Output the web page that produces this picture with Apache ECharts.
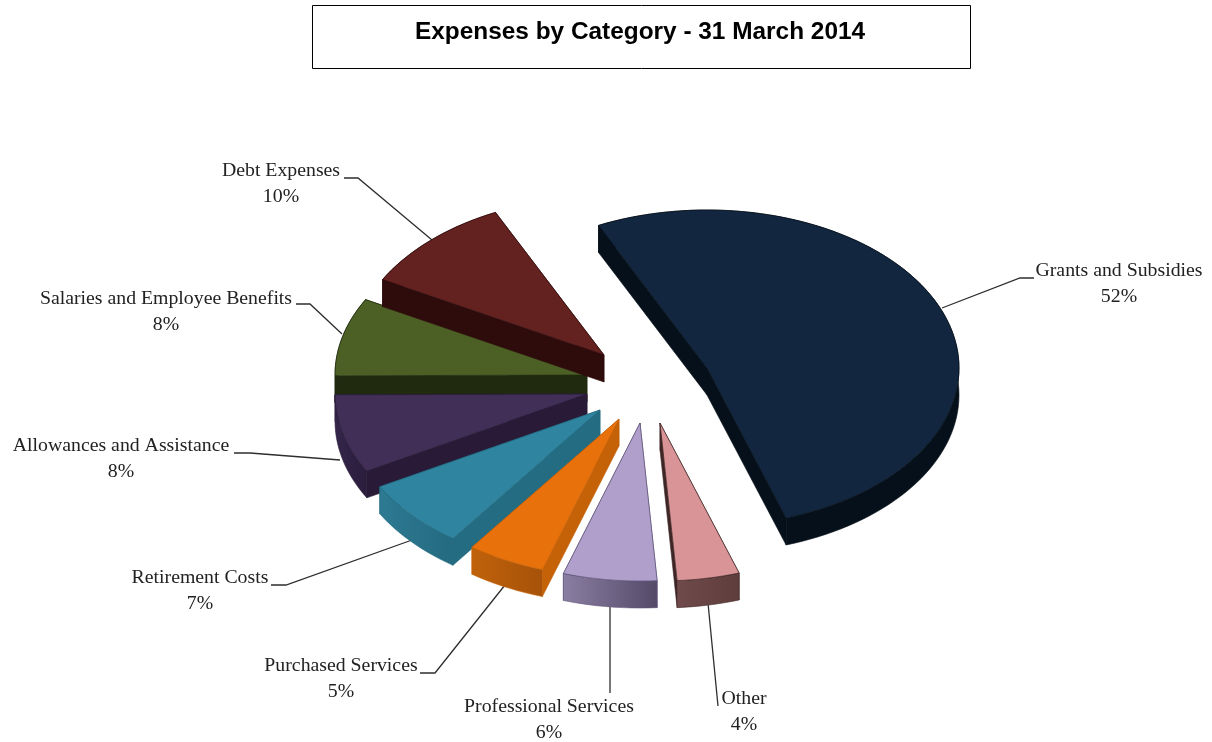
<!DOCTYPE html>
<html><head><meta charset="utf-8">
<style>html,body{margin:0;padding:0;background:#fff}#c{width:1212px;height:742px}</style>
<script src="https://cdn.jsdelivr.net/npm/echarts@6/dist/echarts.min.js"></script>
</head><body><div id="c"></div>
<script>
// Data, clockwise from the first slice
const categories = ['Grants and Subsidies','Other','Professional Services','Purchased Services','Retirement Costs','Allowances and Assistance','Salaries and Employee Benefits','Debt Expenses'];
const percentages = [52,4,6,5,7,8,8,10];
const chartTitle = 'Expenses by Category - 31 March 2014';

// Styles
const topColors   = ['#12263f','#d89496','#b09fca','#e8710c','#2f84a0','#412f58','#4c5f25','#63211f'];
const sideColors  = ['#06101a','#3f2626','#5f5478','#c56107','#246c82','#291b38','#1f2a0f','#2e0c0c'];
const outerFrom   = ['#06101a','#704a4a','#8a7ea2','#c0620c','#2d7a92','#35264a','#1f2a0f','#2e0c0c'];
const outerTo     = ['#06101a','#5f3d3d','#544a68','#a65208','#246a80','#2a1c3c','#1f2a0f','#2e0c0c'];

// Layout: each exploded slice's apex on the page, drawing order, label and leader geometry
const apexX = [707,660,640,619,600,587,587,604];
const apexY = [368,423,423,419,410,394,375,355];
const drawRank = [7,6,5,4,3,2,0,1];
const radiusX = 252, radiusY = 158, thickness = 27, startAngle = -25.5;
const labelX = [1119,744,549,341,200,121,166,281];
const labelY = [258,686,694,653,565,433,286,158];
const leaders = [
  [[942,308],[1020,278],[1034,278]],
  [[708,603],[718,706]],
  [[610,605],[610,693]],
  [[505,585],[435,673],[420,673]],
  [[412,540],[286,585],[271,585]],
  [[340,460],[250,453],[234,453]],
  [[342,334],[310,304],[296,304]],
  [[432,240],[358,178],[344,178]]
];

const total = percentages.reduce((a,b)=>a+b,0);
function sliceAngles(i){
  let a = startAngle;
  for(let k=0;k<i;k++) a += percentages[k]/total*360;
  return [a, a + percentages[i]/total*360];
}
function onRim(cx,cy,deg,dy){
  const r = deg*Math.PI/180;
  return [cx+radiusX*Math.sin(r), cy-radiusY*Math.cos(r)+dy];
}
function arc(cx,cy,a,b,dy){
  const pts=[], n=Math.max(8,Math.ceil((b-a)/2));
  for(let s=0;s<=n;s++) pts.push(onRim(cx,cy,a+(b-a)*s/n,dy));
  return pts;
}
function renderItem(params,api){
  const i = api.value(0), [a,b] = sliceAngles(i);
  const cx = apexX[i], cy = apexY[i], z = 10+drawRank[i]*3;
  const top = [[cx,cy]].concat(arc(cx,cy,a,b,0));
  const first = onRim(cx,cy,a,0), last = onRim(cx,cy,b,0);
  const quad = (p)=>[[cx,cy],p,[p[0],p[1]+thickness],[cx,cy+thickness]];
  const outer = arc(cx,cy,a,b,0).concat(arc(cx,cy,a,b,thickness).reverse());
  const wall = (pts,fill)=>({type:'polygon',shape:{points:pts},z2:z,style:{fill,stroke:sideColors[i],lineWidth:0.6}});
  const grad = new echarts.graphic.LinearGradient(0,0,1,0,[{offset:0,color:outerFrom[i]},{offset:1,color:outerTo[i]}]);
  return {type:'group',children:[
    {type:'polyline',shape:{points:leaders[i]},z2:1,style:{stroke:'#2e2e2e',lineWidth:1.3,fill:null}},
    {type:'text',z2:2,style:{text:categories[i]+'\n'+api.value(1)+'%',x:labelX[i],y:labelY[i],align:'center',verticalAlign:'top',
      lineHeight:26,font:'19.8px "Liberation Serif"',fill:'#222'}},
    wall(quad(first),sideColors[i]),
    wall(quad(last),sideColors[i]),
    wall(outer,grad),
    {type:'polygon',shape:{points:top},z2:z+1,style:{fill:topColors[i],stroke:sideColors[i],lineWidth:0.7}}
  ]};
}
const chart = echarts.init(document.getElementById('c'),null,{renderer:'canvas'});
chart.setOption({
  animation:false,
  backgroundColor:'#fff',
  title:{text:chartTitle,left:312,top:5,padding:[15,106,25,103],borderColor:'#000',borderWidth:1,
    textStyle:{fontFamily:'"Liberation Sans"',fontWeight:'bold',fontSize:24.4,color:'#000'}},
  series:[{type:'custom',coordinateSystem:'none',silent:true,renderItem,
    data:percentages.map((v,i)=>[i,v])}]
});
</script></body></html>
